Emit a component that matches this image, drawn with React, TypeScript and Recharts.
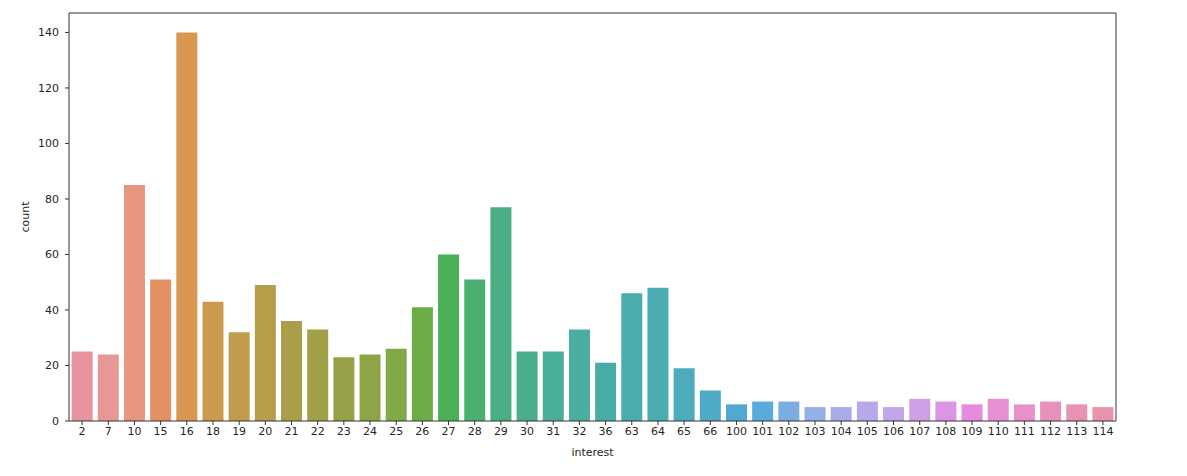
import React from 'react';
import { BarChart, Bar, Cell, XAxis, YAxis, ReferenceLine } from 'recharts';

const interests = [
  '2', '7', '10', '15', '16', '18', '19', '20', '21', '22',
  '23', '24', '25', '26', '27', '28', '29', '30', '31', '32',
  '36', '63', '64', '65', '66', '100', '101', '102', '103', '104',
  '105', '106', '107', '108', '109', '110', '111', '112', '113', '114',
];

const counts = [
  25, 24, 85, 51, 140, 43, 32, 49, 36, 33,
  23, 24, 26, 41, 60, 51, 77, 25, 25, 33,
  21, 46, 48, 19, 11, 6, 7, 7, 5, 5,
  7, 5, 8, 7, 6, 8, 6, 7, 6, 5,
];

const yTicks = [0, 20, 40, 60, 80, 100, 120, 140];
const yMax = 147;

// husl-ish palette, one colour per bar
const barColors = [
  '#e8919f', '#e89894', '#e8977f', '#e39163', '#d89650', '#ca9a4e', '#c09c4c', '#b59d4a', '#ab9e48', '#a19f47',
  '#98a147', '#8da547', '#80a948', '#6bac47', '#4aaf55', '#4aaf71', '#4aae83', '#4aae8e', '#4aad97', '#4aad9f',
  '#4aaca6', '#4aacac', '#4badb2', '#4dacbb', '#4eaac6', '#51a9d2', '#58abdc', '#7aaee3', '#94aee6', '#a8abea',
  '#b7a8ea', '#c3a5e9', '#cf9fe5', '#dc95e6', '#e68be0', '#e78fd3', '#e891c8', '#e891be', '#e892b4', '#e893a9',
];

const data = interests.map((interest, i) => ({ interest, count: counts[i] }));

const FONT = 'DejaVu Sans, sans-serif';
const AXIS = '#333333';
const TEXT = '#262626';

const App: React.FC = () => {
  return (
    <div style={{ width: 1179, height: 468, fontFamily: FONT }}>
      <BarChart
        width={1179}
        height={468}
        data={data}
        margin={{ top: 5, right: 71, left: 0, bottom: 25 }}
        barCategoryGap="10%"
      >
        <XAxis
          dataKey="interest"
          interval={0}
          height={30}
          stroke={AXIS}
          tickSize={4}
          tickMargin={2}
          tick={{ fontSize: 11, fill: TEXT, fontFamily: FONT }}
          label={{
            content: ({ viewBox }: any) => (
              <text
                x={viewBox.x + viewBox.width / 2}
                y={viewBox.y + 35}
                textAnchor="middle"
                fontSize={11}
                fill={TEXT}
                fontFamily={FONT}
              >
                interest
              </text>
            ),
          }}
        />
        <YAxis
          width={61}
          domain={[0, yMax]}
          ticks={yTicks}
          stroke={AXIS}
          tickSize={4}
          tickMargin={6}
          tick={{ fontSize: 11, fill: TEXT, fontFamily: FONT }}
          label={{
            content: ({ viewBox }: any) => (
              <text
                x={21}
                y={viewBox.y + viewBox.height / 2}
                transform={`rotate(-90, 21, ${viewBox.y + viewBox.height / 2})`}
                textAnchor="middle"
                fontSize={11}
                fill={TEXT}
                fontFamily={FONT}
              >
                count
              </text>
            ),
          }}
        />
        <Bar dataKey="count" isAnimationActive={false}>
          {data.map((d, i) => (
            <Cell key={d.interest} fill={barColors[i]} />
          ))}
        </Bar>
        {/* frame: top and right spines */}
        <ReferenceLine y={yMax} stroke={AXIS} />
        <ReferenceLine x={interests[interests.length - 1]} position="end" stroke={AXIS} />
      </BarChart>
    </div>
  );
};

export default App;
